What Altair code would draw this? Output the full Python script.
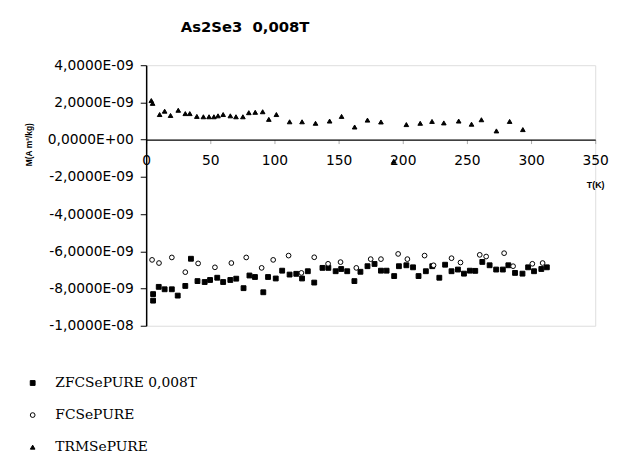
import altair as alt
import pandas as pd

# ---- data (M in units of 1e-9 A m^2/kg) ----
zfc_T = [5.4, 5.4, 9.8, 14.4, 20, 24.6, 30.5, 34.9, 40, 45.6, 49.8, 55.4, 60, 65.6, 70.2, 75.9,
         80.5, 84.8, 91.3, 95, 101, 106, 111.8, 117, 121.5, 126, 131, 137.4, 142, 147.7, 152,
         156.7, 162.3, 167, 172.5, 178, 183, 187.4, 193.3, 197, 202.8, 208, 212.3, 218, 223,
         228.5, 233, 238, 243, 247.7, 252.3, 256.5, 262, 267.7, 272.8, 278, 282.3, 287.5,
         293.3, 297.7, 302.3, 308, 312.3]
zfc_M = [-8.3, -8.65, -7.91, -8.04, -8.04, -8.38, -7.86, -6.4, -7.6, -7.65, -7.54, -7.42, -7.65,
         -7.54, -7.47, -7.98, -7.3, -7.38, -8.2, -7.38, -7.46, -7.04, -7.25, -7.21, -7.46, -7.07,
         -7.68, -6.89, -6.89, -7.07, -6.95, -7.07, -7.6, -7.1, -6.8, -6.68, -7.04, -7.04, -7.33,
         -6.8, -6.75, -6.86, -7.33, -7.07, -6.8, -7.42, -6.72, -7.07, -6.98, -7.2, -7.04, -7.05,
         -6.57, -6.75, -6.98, -6.98, -6.75, -7.16, -7.2, -6.86, -7.07, -6.95, -6.86]

fc_T = [4.6, 10, 20, 30.5, 40.5, 53.6, 66.4, 78, 90, 99, 111, 121, 131, 141.8, 151.5, 163.8,
        175, 183, 196.4, 203.6, 217, 224, 238, 245, 260, 265, 279, 286, 301, 309]
fc_M = [-6.46, -6.63, -6.33, -7.12, -6.65, -6.86, -6.63, -6.33, -6.89, -6.46, -6.23, -7.16,
        -6.32, -6.67, -6.58, -6.89, -6.42, -6.42, -6.14, -6.42, -6.23, -6.75, -6.37, -6.6,
        -6.19, -6.28, -6.1, -6.8, -6.67, -6.63]

trm_T = [4, 5, 10.5, 14.4, 19, 25, 30.5, 34, 39.5, 44.6, 49, 52.8, 56, 60, 65.6, 70, 75.4, 80,
         85, 90.8, 95.6, 101.5, 111.8, 121.5, 132, 143, 152.3, 162.5, 172.5, 183, 193, 202.8,
         213.6, 222.8, 232, 243.6, 253.6, 261.3, 273, 283.3, 293.6]
trm_M = [2.1, 1.95, 1.35, 1.53, 1.3, 1.58, 1.4, 1.4, 1.25, 1.23, 1.23, 1.23, 1.28, 1.35, 1.28,
         1.23, 1.23, 1.45, 1.47, 1.5, 1.09, 1.35, 0.96, 0.96, 0.88, 1.0, 1.25, 0.68, 1.05, 0.95,
         -1.16, 0.81, 0.88, 0.98, 0.9, 1.0, 0.83, 1.07, 0.47, 0.98, 0.54]

series_names = ["ZFCSePURE 0,008T", "FCSePURE", "TRMSePURE"]
series_shapes = ["square", "circle", "triangle-up"]
series_fills = ["black", "white", "black"]
series_strokes = ["black", "black", "black"]
series_sizes = [24, 22, 36]

y_ticks = [-1e-8, -8e-9, -6e-9, -4e-9, -2e-9, 0, 2e-9, 4e-9]
x_ticks = [0, 50, 100, 150, 200, 250, 300, 350]

rows = []
for name, Ts, Ms in zip(series_names, [zfc_T, fc_T, trm_T], [zfc_M, fc_M, trm_M]):
    for t, m in zip(Ts, Ms):
        rows.append({"T": t, "M": m * 1e-9, "series": name})
df = pd.DataFrame(rows)

leg = alt.Legend(
    orient="none", legendX=-122, legendY=315, direction="vertical", title=None,
    labelFont="DejaVu Serif", labelFontSize=14, labelColor="black", labelOffset=16,
    rowPadding=18.5, symbolStrokeColor="black", symbolStrokeWidth=1, padding=0,
)

ylabel = ("replace(replace(replace(replace(format(datum.value, '.4e'), '.', ','), 'e', 'E'), "
          "regexp('([0-9])$'), '0$1'), '\u2212', '-')")

chart = alt.Chart(df).mark_point(filled=True, strokeWidth=1, opacity=1).encode(
    x=alt.X("T:Q", scale=alt.Scale(domain=[0, 350], nice=False),
            axis=alt.Axis(values=x_ticks, offset=-188.6, labelFlush=False, grid=False,
                          tickSize=4, tickColor="#aaaaaa", domainColor="black", domainWidth=1.5,
                          labelFont="DejaVu Sans", labelFontSize=14, labelColor="black",
                          labelPadding=10, title="T(K)", titleFont="Liberation Sans",
                          titleFontSize=9, titleFontWeight="bold", titleColor="black",
                          titleX=455, titleY=42, titleAlign="center")),
    y=alt.Y("M:Q", scale=alt.Scale(domain=[-1e-8, 4e-9], nice=False, zero=False),
            axis=alt.Axis(values=y_ticks, labelExpr=ylabel, grid=False, tickSize=6,
                          tickColor="black", domainColor="black", domainWidth=1.5,
                          labelFont="DejaVu Sans", labelFontSize=14, labelColor="black",
                          labelPadding=7, title="M(A m²/kg)", titleFont="Liberation Sans",
                          titleFontSize=8.5, titleFontWeight="bold", titleColor="black",
                          titleX=-119, titleY=80, titleAngle=270, titleAlign="center",
                          titleBaseline="middle")),
    shape=alt.Shape("series:N", scale=alt.Scale(domain=series_names, range=series_shapes), legend=leg),
    fill=alt.Fill("series:N", scale=alt.Scale(domain=series_names, range=series_fills), legend=leg),
    stroke=alt.Stroke("series:N", scale=alt.Scale(domain=series_names, range=series_strokes), legend=leg),
    size=alt.Size("series:N", scale=alt.Scale(domain=series_names, range=series_sizes), legend=leg),
).properties(
    width=455, height=264,
    title=alt.TitleParams("As2Se3\u00a0\u00a00,008T", anchor="start", frame="group", dx=35, offset=24,
                          font="DejaVu Sans", fontSize=15, fontWeight="bold", color="black"),
    padding={"left": 140, "top": 55, "right": 16, "bottom": 129},
    autosize=alt.AutoSizeParams(type="none"),
).configure_view(strokeWidth=0).configure(background="white")

chart.save("out.html", embed_options={"renderer": "svg", "actions": False})
